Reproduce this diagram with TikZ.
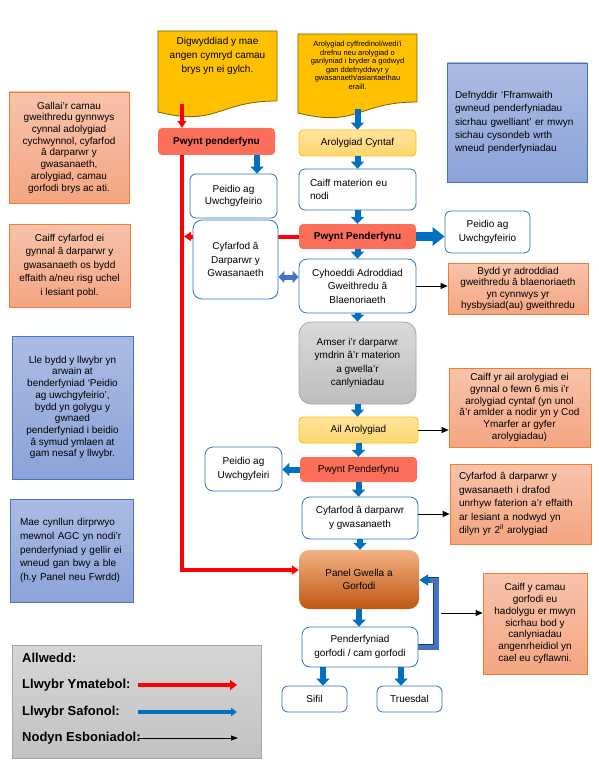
\documentclass[tikz,border=0pt]{standalone}
\usepackage{fontspec}
\setmainfont{Liberation Sans}
\usetikzlibrary{arrows.meta,backgrounds}

\definecolor{stdblue}{HTML}{0070C0}
\definecolor{boxline}{HTML}{2E75B6}
\definecolor{resp}{HTML}{FF0000}
\definecolor{decfill}{HTML}{FA6E5A}
\definecolor{docfill}{HTML}{FFC000}
\definecolor{docline}{HTML}{7F6000}
\definecolor{reviewtop}{HTML}{FFE49C}
\definecolor{reviewbot}{HTML}{FFD66E}
\definecolor{reviewline}{HTML}{FFC000}
\definecolor{notetop}{HTML}{F8C3AB}
\definecolor{notebot}{HTML}{F4A581}
\definecolor{noteline}{HTML}{ED7D31}
\definecolor{bnotetop}{HTML}{ABBBE3}
\definecolor{bnotebot}{HTML}{8CA3D8}
\definecolor{bnoteline}{HTML}{4472C4}
\definecolor{greytop}{HTML}{DADADA}
\definecolor{greybot}{HTML}{BDBDBD}
\definecolor{greyline}{HTML}{A6A6A6}
\definecolor{paneltop}{HTML}{F4B183}
\definecolor{panelmid}{HTML}{EE8235}
\definecolor{panelbot}{HTML}{BF5712}
\definecolor{loopblue}{HTML}{4472C4}
\definecolor{loopline}{HTML}{1F3864}
\definecolor{keytop}{HTML}{D6D6D6}
\definecolor{keybot}{HTML}{C2C2C2}

\begin{document}
\begin{tikzpicture}[
    x=1pt, y=-1pt,
    font=\fontsize{10}{13.5}\selectfont,
    stepbox/.style={rectangle, draw=boxline, line width=0.8pt, rounded corners=6pt, fill=white, align=center, inner sep=3pt},
    decision/.style={rectangle, rounded corners=4pt, fill=decfill, align=center, minimum width=117pt, minimum height=25pt},
    review/.style={rectangle, draw=reviewline, line width=0.8pt, rounded corners=4pt, top color=reviewtop, bottom color=reviewbot, minimum height=26pt},
    greybox/.style={rectangle, draw=greyline, line width=0.8pt, rounded corners=12pt, top color=greytop, bottom color=greybot, align=center},
    panelbox/.style={rectangle, rounded corners=10pt, top color=paneltop, middle color=panelmid, bottom color=panelbot, align=center},
    note/.style={rectangle, draw=noteline, line width=0.8pt, top color=notetop, bottom color=notebot, align=center, inner sep=3pt, font=\fontsize{10}{11.7}\selectfont},
    bluenote/.style={rectangle, draw=bnoteline, line width=0.8pt, top color=bnotetop, bottom color=bnotebot, align=center, inner sep=3pt, font=\fontsize{10}{11.7}\selectfont},
    doc/.style={fill=docfill, draw=docline, line width=0.8pt},
    key/.style={anchor=west, inner sep=0pt, font=\fontsize{13}{15}\selectfont\bfseries},
    std_arrow/.style={-{Triangle[width=13pt,length=7pt]}, line width=6pt, draw=stdblue},
    wide_arrow/.style={-{Triangle[width=18pt,length=12pt]}, line width=9pt, draw=stdblue},
    resp_arrow/.style={-{Triangle[width=9pt,length=7pt]}, line width=4pt, draw=resp},
    resp_line/.style={line width=4pt, draw=resp},
    both_arrow/.style={{Triangle[width=12pt,length=6pt]}-{Triangle[width=12pt,length=6pt]}, line width=5pt, draw=loopblue},
    loop_line/.style={draw=loopline, double=loopblue, double distance=5pt, line width=0.7pt},
    loop_head/.style={-{Triangle[width=11pt,length=9pt]}, line width=5pt, draw=stdblue},
    note_arrow/.style={-{Triangle[width=6pt,length=7pt]}, line width=0.8pt, draw=black}
]
    \useasboundingbox (0,0) rectangle (598,762);

    % Documents at the top
    \draw[doc] (158,31) -- (277,31) -- (277,101) .. controls (217.5,101) and (217.5,127) .. (158,112) -- cycle;
    \node[align=center, font=\fontsize{10}{14}\selectfont] (event) at (217.5,56) {Digwyddiad y mae\\angen cymryd camau\\brys yn ei gylch.};
    \coordinate (event_out) at (182,104);
    \draw[doc] (298,34) -- (417,34) -- (417,102) .. controls (357.5,102) and (357.5,128) .. (298,113) -- cycle;
    \node[align=center, font=\fontsize{7.5}{8.5}\selectfont] (routine) at (357.5,65.5) {Arolygiad cyffredinol/wedi’i\\drefnu neu arolygiad o\\ganlyniad i bryder a godwyd\\gan ddefnyddwyr y\\gwasanaeth/asiantaethau\\eraill.};
    \coordinate (routine_out) at (357.5,109);

    % Urgent path
    \node[decision, font=\fontsize{10}{12}\selectfont\bfseries, minimum height=27pt] (pp1) at (216.5,141.5) {Pwynt penderfynu};
    \node[stepbox, minimum width=87pt, minimum height=44pt, font=\fontsize{10}{12}\selectfont] (peidio1) at (233.5,196) {Peidio ag\\Uwchgyfeirio};

    % Main column
    \node[review, minimum width=117pt] (arol1) at (357.5,143) {Arolygiad Cyntaf};
    \node[stepbox, minimum width=117pt, minimum height=41pt, text width=95pt, align=left] (materion) at (357.5,189.5) {Caiff materion eu\\nodi};
    \node[decision, font=\fontsize{10}{12}\selectfont\bfseries] (pp2) at (357.5,236.5) {Pwynt Penderfynu};
    \node[stepbox, minimum width=85pt, minimum height=42pt] (peidio2) at (487.5,232) {Peidio ag\\Uwchgyfeirio};
    \node[stepbox, minimum width=85pt, minimum height=79pt, rounded corners=9pt] (cyfarfod1) at (235.5,259.5) {Cyfarfod â\\Darparwr y\\Gwasanaeth};
    \node[stepbox, minimum width=117pt, minimum height=54pt, rounded corners=8pt] (cyhoeddi) at (357.5,286) {Cyhoeddi Adroddiad\\Gweithredu â\\Blaenoriaeth};
    \node[greybox, minimum width=117pt, minimum height=82pt] (amser) at (357.5,363) {Amser i’r darparwr\\ymdrin â’r materion\\a gwella’r\\canlyniadau};
    \node[review, minimum width=119pt] (ail) at (358.5,430) {Ail Arolygiad};
    \node[decision] (pp3) at (358.5,469.5) {Pwynt Penderfynu};
    \node[stepbox, minimum width=77pt, minimum height=44pt, rounded corners=8pt] (peidio3) at (243.5,469) {Peidio ag\\Uwchgyfeiri};
    \node[stepbox, minimum width=116pt, minimum height=42pt, rounded corners=8pt] (cyfarfod2) at (360,518) {Cyfarfod â darparwr\\y gwasanaeth};
    \node[panelbox, minimum width=120pt, minimum height=59pt] (panel) at (359,579.5) {Panel Gwella a\\Gorfodi};
    \node[stepbox, minimum width=116pt, minimum height=40pt, rounded corners=8pt] (pend) at (360,647) {Penderfyniad\\gorfodi / cam gorfodi};
    \node[stepbox, minimum width=65pt, minimum height=26pt] (sifil) at (314.5,699) {Sifil};
    \node[stepbox, minimum width=65pt, minimum height=26pt] (truesdal) at (409.5,699) {Truesdal};
    \coordinate (loop_top) at (436,580);

    % Notes on the left
    \node[note, minimum width=120pt, minimum height=111pt] (gallai) at (69,147.5) {Gallai’r camau\\gweithredu gynnwys\\cynnal adolygiad\\cychwynnol, cyfarfod\\â darparwr y\\gwasanaeth,\\arolygiad, camau\\gorfodi brys ac ati.};
    \node[note, minimum width=121pt, minimum height=83pt, font=\fontsize{10}{13.5}\selectfont] (cyfgynnal) at (69.5,265.5) {Caiff cyfarfod ei\\gynnal â darparwr y\\gwasanaeth os bydd\\effaith a/neu risg uchel\\i lesiant pobl.};
    \node[bluenote, minimum width=121pt, minimum height=143pt] (llwybr) at (72.5,407.5) {Lle bydd y llwybr yn\\arwain at\\benderfyniad ‘Peidio\\ag uwchgyfeirio’,\\bydd yn golygu y\\gwnaed\\penderfyniad i beidio\\â symud ymlaen at\\gam nesaf y llwybr.};
    \node[bluenote, minimum width=123pt, minimum height=103pt, text width=103pt, align=left, font=\fontsize{10}{13.7}\selectfont] (dirprwyo) at (71.5,550.5) {Mae cynllun dirprwyo\\mewnol AGC yn nodi’r\\penderfyniad y gellir ei\\wneud gan bwy a ble\\(h.y Panel neu Fwrdd)};

    % Notes on the right
    \node[bluenote, minimum width=140pt, minimum height=119pt, text width=124pt, align=left, font=\fontsize{10}{13.3}\selectfont] (fframwaith) at (517,122.5) {Defnyddir ‘Fframwaith\\gwneud penderfyniadau\\sicrhau gwelliant’ er mwyn\\sichau cysondeb wrth\\wneud penderfyniadau};
    \node[note, anchor=north, minimum width=140pt, minimum height=51pt, font=\fontsize{10}{11.3}\selectfont] (bydd) at (518,263) {Bydd yr adroddiad\\gweithredu â blaenoriaeth\\yn cynnwys yr\\hysbysiad(au) gweithredu};
    \node[note, minimum width=141pt, minimum height=79pt] (ailnote) at (519.5,407.5) {Caiff yr ail arolygiad ei\\gynnal o fewn 6 mis i’r\\arolygiad cyntaf (yn unol\\â’r amlder a nodir yn y Cod\\Ymarfer ar gyfer\\arolygiadau)};
    \node[note, minimum width=141pt, minimum height=80pt, text width=123pt, align=left, font=\fontsize{10}{13.5}\selectfont] (cyfnote) at (520.5,504) {Cyfarfod â darparwr y\\gwasanaeth i drafod\\unrhyw faterion a’r effaith\\ar lesiant a nodwyd yn\\dilyn yr 2\textsuperscript{il} arolygiad};
    \node[note, minimum width=104pt, minimum height=101pt] (gorfnote) at (535,623.5) {Caiff y camau\\gorfodi eu\\hadolygu er mwyn\\sicrhau bod y\\canlyniadau\\angenrheidiol yn\\cael eu cyflawni.};

    % Key
    \node[rectangle, draw=greyline, line width=0.8pt, top color=keytop, bottom color=keybot, minimum width=249pt, minimum height=113pt] (legend) at (136.5,701.5) {};
    \node[key] (k0) at (22,658) {Allwedd:};
    \node[key] (k1) at (22,685) {Llwybr Ymatebol:};
    \node[key] (k2) at (22,712) {Llwybr Safonol:};
    \node[key] (k3) at (22,738) {Nodyn Esboniadol:};
    \coordinate (k1_s) at (138,685); \coordinate (k1_e) at (237,685);
    \coordinate (k2_s) at (138,712); \coordinate (k2_e) at (237,712);
    \coordinate (k3_s) at (138,738); \coordinate (k3_e) at (238,738);
    \draw[-{Triangle[width=10pt,length=7pt]}, line width=4.5pt, draw=resp] (k1_s) -- (k1_e);
    \draw[-{Triangle[width=8pt,length=6pt]}, line width=3.5pt, draw=stdblue] (k2_s) -- (k2_e);
    \draw[-{Triangle[width=5pt,length=7pt]}, line width=0.8pt] (k3_s) -- (k3_e);

    % Urgent path arrows
    \begin{scope}[on background layer]
    \draw[resp_line] (event_out |- pp1.south) -- ([yshift=9.5pt]event_out |- panel.west);
    \draw[resp_arrow] ([yshift=9.5pt,xshift=-2pt]event_out |- panel.west) -- ([yshift=9.5pt]panel.west);
    \draw[resp_arrow] (pp2.west) -- ([xshift=2pt]pp2.west -| event_out);
    \end{scope}
    \draw[resp_arrow] (event_out) -- (event_out |- pp1.north);
    \draw[std_arrow] ([xshift=40.5pt]pp1.south) -- ([xshift=40.5pt]pp1.south |- peidio1.north);

    % Standard path arrows
    \draw[std_arrow] (routine_out) -- (routine_out |- arol1.north);
    \draw[std_arrow] (arol1.south) -- (materion.north);
    \draw[std_arrow] (materion.south) -- (pp2.north);
    \draw[wide_arrow] (pp2.east) -- (pp2.east -| peidio2.west);
    \draw[std_arrow] (pp2.south) -- (cyhoeddi.north);
    \draw[both_arrow] ([yshift=9pt]cyhoeddi.west) -- ([yshift=9pt]cyhoeddi.west -| cyfarfod1.east);
    \draw[std_arrow] (cyhoeddi.south) -- (amser.north);
    \draw[std_arrow] (amser.south) -- (amser.south |- ail.north);
    \draw[std_arrow] (ail.south) -- (pp3.north);
    \draw[std_arrow] (pp3.west) -- (pp3.west -| peidio3.east);
    \draw[std_arrow] (pp3.south) -- (pp3.south |- cyfarfod2.north);
    \draw[std_arrow] (cyfarfod2.south) -- (cyfarfod2.south |- panel.north);
    \draw[std_arrow] (panel.south) -- (panel.south |- pend.north);
    \draw[std_arrow] ([xshift=8.5pt]sifil.north |- pend.south) -- ([xshift=8.5pt]sifil.north);
    \draw[std_arrow] ([xshift=-8.5pt]truesdal.north |- pend.south) -- ([xshift=-8.5pt]truesdal.north);
    \draw[loop_line] (pend.east) -| (loop_top) -- ([xshift=9pt]panel.east |- loop_top);
    \draw[loop_head] ([xshift=11pt]panel.east |- loop_top) -- (panel.east |- loop_top);

    % Note arrows
    \draw[note_arrow] (cyhoeddi.east) -- (cyhoeddi.east -| bydd.west);
    \draw[note_arrow] (ail.east) -- (ail.east -| ailnote.west);
    \draw[note_arrow] ([yshift=4pt]cyfarfod2.east) -- ([yshift=4pt]cyfarfod2.east -| cyfnote.west);
    \draw[note_arrow] ([xshift=5pt,yshift=10.5pt]loop_top |- gorfnote.west) -- ([yshift=10.5pt]gorfnote.west);
\end{tikzpicture}
\end{document}
